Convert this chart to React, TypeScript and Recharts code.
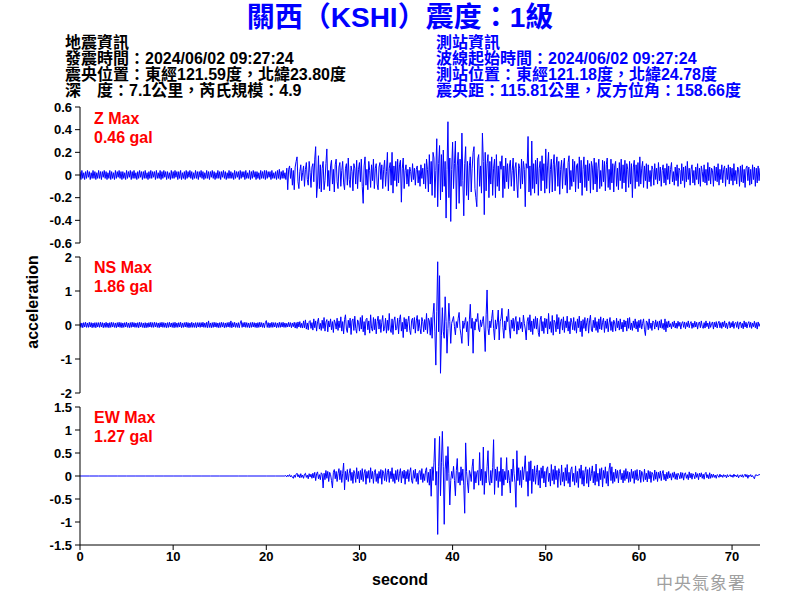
import React from "react"
import { Line, LineChart, XAxis, YAxis } from "recharts"

// seconds: Z/NS are sampled every 0.1 s from 0 s; EW is flat before the onset
const STEP = 0.1
const EW_PRE_STEP = 1
const EVENT_START = 22

const xTicks = [0, 10, 20, 30, 40, 50, 60, 70]
const zTicks = [0.6, 0.4, 0.2, 0, -0.2, -0.4, -0.6]
const nsTicks = [2, 1, 0, -1, -2]
const ewTicks = [1.5, 1, 0.5, 0, -0.5, -1, -1.5]

// Z component (gal)
const zPre = [
  0.03, -0.04, 0.04, -0.03, 0.02, -0.04, 0.03, -0.03, 0.04, -0.02,
  0.03, -0.04, 0.02, -0.03, 0.04, -0.03, 0.03, -0.04, 0.02, -0.03,
  0.04, -0.03, 0.03, -0.04, 0.03, -0.02, 0.04, -0.03, 0.03, -0.04,
  0.02, -0.03, 0.04, -0.04, 0.03, -0.03, 0.02, -0.04, 0.04, -0.03,
  0.03, -0.02, 0.04, -0.03, 0.03, -0.04, 0.03, -0.03, 0.02, -0.04,
  0.04, -0.03, 0.03, -0.02, 0.04, -0.04, 0.03, -0.03, 0.04, -0.03,
  0.02, -0.04, 0.03, -0.03, 0.04, -0.02, 0.03, -0.04, 0.03, -0.03,
  0.04, -0.03, 0.02, -0.04, 0.03, -0.03, 0.04, -0.03, 0.03, -0.02,
  0.03, -0.04, 0.04, -0.03, 0.02, -0.03, 0.04, -0.04, 0.03, -0.03,
  0.04, -0.02, 0.03, -0.04, 0.03, -0.03, 0.02, -0.04, 0.04, -0.03,
  0.03, -0.03, 0.04, -0.02, 0.03, -0.04, 0.03, -0.03, 0.04, -0.04,
  0.02, -0.03, 0.03, -0.04, 0.04, -0.03, 0.03, -0.02, 0.04, -0.03,
  0.03, -0.04, 0.02, -0.03, 0.04, -0.03, 0.03, -0.04, 0.03, -0.02,
  0.04, -0.03, 0.03, -0.04, 0.02, -0.03, 0.04, -0.03, 0.03, -0.04,
  0.03, -0.02, 0.04, -0.03, 0.03, -0.04, 0.02, -0.03, 0.04, -0.03,
  0.03, -0.04, 0.03, -0.02, 0.04, -0.03, 0.03, -0.04, 0.02, -0.03,
  0.04, -0.03, 0.03, -0.03, 0.02, -0.04, 0.04, -0.03, 0.03, -0.02,
  0.03, -0.04, 0.04, -0.03, 0.03, -0.02, 0.03, -0.04, 0.04, -0.03,
  0.02, -0.03, 0.04, -0.04, 0.03, -0.03, 0.04, -0.02, 0.03, -0.04,
  0.03, -0.03, 0.02, -0.04, 0.04, -0.03, 0.03, -0.03, 0.04, -0.04,
  0.04, -0.03, 0.03, -0.02, 0.03, -0.04, 0.04, -0.03, 0.02, -0.03,
  0.03, -0.04, 0.04, -0.03, 0.05, -0.04, 0.03, -0.03, 0.04, -0.03,
]
const zEvent = [
  0.02, -0.04, 0.06, -0.13, 0.05, 0.08, -0.03, 0.06, -0.09, 0.04,
  -0.13, 0.07, 0.12, 0.16, -0.06, -0.12, 0.03, 0.09, -0.05, 0.02,
  0.08, -0.10, 0.05, 0.11, -0.04, -0.09, 0.12, 0.02, -0.11, 0.07,
  0.10, -0.06, 0.14, 0.25, -0.20, -0.08, 0.17, -0.12, 0.09, -0.15,
  0.06, 0.12, -0.13, -0.05, 0.10, 0.23, -0.10, 0.04, -0.14, 0.08,
  0.13, -0.08, 0.05, -0.15, 0.09, 0.14, -0.06, -0.12, 0.07, 0.11,
  -0.10, 0.04, 0.12, -0.07, -0.13, 0.06, 0.10, -0.09, 0.15, -0.04,
  -0.11, 0.08, 0.03, -0.14, 0.10, 0.06, -0.08, 0.13, -0.12, 0.05,
  0.11, -0.06, 0.14, -0.10, -0.25, 0.08, 0.16, -0.09, 0.05, -0.13,
  0.12, 0.04, -0.11, 0.09, -0.05, 0.14, -0.12, 0.06, 0.10, -0.08,
  -0.13, 0.07, 0.11, -0.04, 0.09, -0.12, 0.05, 0.13, -0.10, 0.03,
  0.20, -0.14, 0.06, 0.11, -0.09, 0.20, -0.16, 0.08, -0.05, 0.12,
  -0.10, 0.14, -0.07, 0.09, 0.13, -0.24, 0.06, 0.15, -0.12, 0.04,
  0.09, -0.08, 0.05, -0.10, 0.07, 0.03, -0.06, 0.10, -0.04, 0.06,
  -0.09, 0.05, 0.08, -0.07, 0.04, -0.10, 0.09, -0.03, 0.06, -0.08,
  0.10, -0.12, 0.14, 0.05, -0.15, 0.18, -0.08, 0.12, -0.18, 0.20,
  0.15, -0.20, 0.04, 0.32, -0.28, 0.10, 0.26, -0.22, 0.18, -0.15,
  0.22, -0.10, 0.12, -0.38, 0.05, 0.47, -0.20, 0.15, -0.41, 0.05,
  0.29, -0.12, 0.10, 0.30, -0.30, 0.08, 0.20, -0.25, 0.14, -0.10,
  0.37, -0.05, -0.36, 0.10, 0.25, -0.18, 0.12, -0.22, 0.08, 0.16,
  -0.15, 0.06, 0.20, 0.25, -0.12, -0.20, -0.28, 0.14, 0.18, -0.10,
  0.08, -0.16, 0.37, 0.12, -0.35, 0.20, -0.14, 0.10, 0.18, -0.20,
  0.12, -0.08, 0.16, -0.18, 0.06, 0.14, -0.20, 0.18, -0.10, 0.08,
  -0.14, 0.12, 0.05, 0.17, -0.20, 0.08, -0.12, 0.15, -0.06, 0.10,
  -0.12, 0.08, 0.13, -0.10, 0.04, 0.15, -0.14, 0.06, 0.11, -0.08,
  -0.20, 0.10, 0.06, -0.12, 0.14, -0.08, 0.12, 0.05, -0.28, 0.10,
  0.06, 0.34, -0.15, 0.08, -0.18, 0.30, -0.12, 0.10, -0.16, 0.13,
  -0.08, 0.15, -0.18, 0.06, 0.12, -0.14, 0.17, -0.05, 0.10, -0.16,
  0.23, -0.12, 0.08, 0.20, -0.16, 0.05, 0.14, -0.15, 0.09, 0.18,
  -0.14, 0.07, 0.16, -0.10, 0.12, -0.17, 0.05, 0.13, -0.12, 0.08,
  0.15, -0.09, 0.06, -0.16, 0.11, 0.17, -0.13, 0.04, -0.10, 0.14,
  -0.06, 0.12, -0.15, 0.08, 0.10, -0.12, 0.16, -0.07, 0.13, -0.18,
  0.05, 0.16, -0.11, 0.09, -0.14, 0.13, -0.05, 0.10, -0.16, 0.12,
  0.07, -0.13, 0.15, -0.08, 0.11, -0.15, 0.06, 0.14, -0.12, 0.04,
  -0.10, 0.13, -0.06, 0.12, -0.14, 0.09, 0.15, -0.11, 0.05, -0.13,
  0.14, -0.07, 0.10, -0.15, 0.08, 0.12, -0.10, 0.06, -0.13, 0.11,
  -0.05, 0.14, -0.12, 0.09, -0.07, 0.13, -0.15, 0.10, 0.05, -0.11,
  0.12, -0.08, 0.10, -0.20, 0.07, 0.13, -0.12, 0.09, -0.06, 0.11,
  -0.10, 0.16, -0.08, 0.06, 0.12, -0.11, 0.08, -0.05, 0.10, -0.12,
  0.09, -0.06, 0.04, -0.10, 0.08, 0.05, -0.09, 0.10, -0.04, 0.06,
  -0.08, 0.11, -0.05, 0.07, -0.10, 0.04, 0.09, -0.07, 0.06, -0.09,
  0.10, -0.04, 0.08, -0.08, 0.05, 0.11, -0.06, 0.03, -0.09, 0.07,
  -0.05, 0.09, -0.10, 0.06, 0.04, -0.08, 0.10, -0.05, 0.07, -0.11,
  0.08, -0.06, 0.12, -0.04, 0.06, -0.09, 0.05, 0.09, -0.07, 0.04,
  -0.09, 0.07, -0.04, 0.10, -0.08, 0.06, -0.10, 0.08, 0.03, -0.06,
  0.09, -0.07, 0.05, -0.09, 0.11, -0.05, 0.07, -0.08, 0.06, 0.04,
  -0.10, 0.08, -0.05, 0.07, -0.06, 0.10, -0.09, 0.05, -0.04, 0.09,
  -0.07, 0.05, 0.08, -0.10, 0.06, -0.04, 0.09, -0.08, 0.07, -0.05,
  0.06, -0.09, 0.10, -0.05, 0.04, -0.08, 0.07, 0.05, -0.10, 0.08,
  -0.06, 0.09, -0.07, 0.05, -0.11, 0.06, 0.08, -0.05, 0.07, -0.09,
  0.05, -0.08, 0.09, -0.04, 0.07, -0.10, 0.06, -0.07, 0.08, -0.05,
  0.06,
]

// NS component (gal)
const nsPre = [
  0.07, -0.07, 0.06, -0.08, 0.07, -0.06, 0.08, -0.07, 0.06, -0.07,
  0.08, -0.06, 0.07, -0.08, 0.06, -0.07, 0.07, -0.08, 0.07, -0.06,
  0.07, -0.07, 0.08, -0.06, 0.07, -0.08, 0.06, -0.07, 0.08, -0.07,
  0.06, -0.08, 0.07, -0.07, 0.08, -0.06, 0.07, -0.07, 0.06, -0.08,
  0.07, -0.06, 0.08, -0.07, 0.07, -0.08, 0.06, -0.07, 0.07, -0.06,
  0.08, -0.07, 0.06, -0.08, 0.07, -0.07, 0.08, -0.06, 0.07, -0.07,
  0.06, -0.07, 0.07, -0.08, 0.08, -0.06, 0.07, -0.07, 0.06, -0.08,
  0.07, -0.08, 0.06, -0.07, 0.07, -0.06, 0.08, -0.07, 0.07, -0.07,
  0.08, -0.06, 0.07, -0.07, 0.06, -0.08, 0.07, -0.06, 0.08, -0.07,
  0.07, -0.07, 0.06, -0.08, 0.07, -0.07, 0.08, -0.06, 0.06, -0.07,
  0.07, -0.08, 0.08, -0.07, 0.06, -0.07, 0.07, -0.06, 0.08, -0.08,
  0.06, -0.07, 0.07, -0.06, 0.08, -0.07, 0.07, -0.08, 0.06, -0.07,
  0.08, -0.07, 0.06, -0.07, 0.07, -0.08, 0.07, -0.06, 0.07, -0.07,
  0.07, -0.06, 0.08, -0.07, 0.06, -0.07, 0.08, -0.08, 0.12, -0.07,
  0.06, -0.08, 0.07, -0.07, 0.08, -0.06, 0.07, -0.07, 0.06, -0.08,
  0.07, -0.07, 0.08, -0.06, 0.07, -0.08, 0.06, -0.07, 0.07, -0.06,
  0.08, -0.07, 0.12, -0.08, 0.07, -0.06, 0.08, -0.07, 0.06, -0.07,
  0.07, -0.08, 0.06, 0.13, -0.07, 0.07, -0.06, 0.08, -0.07, 0.07,
  -0.07, 0.06, -0.08, 0.07, -0.07, 0.08, -0.06, 0.07, -0.07, 0.06,
  -0.08, 0.07, -0.07, 0.08, -0.06, 0.07, -0.07, 0.06, -0.08, 0.07,
  0.13, -0.07, 0.07, -0.08, 0.06, -0.07, 0.08, -0.07, 0.07, -0.06,
  0.07, -0.08, 0.06, -0.07, 0.08, -0.07, 0.07, -0.06, 0.08, -0.07,
]
const nsEvent = [
  0.06, -0.07, 0.05, -0.06, 0.08, -0.05, 0.07, -0.08, 0.06, -0.05,
  0.08, -0.09, 0.07, -0.10, 0.09, -0.06, 0.10, -0.08, 0.05, -0.09,
  0.12, -0.08, 0.15, -0.12, 0.06, -0.14, 0.10, 0.13, -0.10, 0.07,
  -0.15, 0.18, -0.08, 0.12, -0.18, 0.10, 0.20, -0.12, 0.05, -0.16,
  0.14, -0.10, 0.22, -0.18, 0.08, 0.16, -0.20, 0.12, -0.06, 0.18,
  -0.14, 0.10, -0.22, 0.15, 0.06, -0.12, 0.20, -0.16, 0.12, -0.08,
  0.24, -0.18, 0.10, -0.26, 0.16, 0.30, -0.12, -0.22, 0.14, -0.08,
  0.20, -0.28, 0.12, 0.18, -0.16, 0.26, -0.10, -0.24, 0.15, 0.08,
  -0.18, 0.22, -0.12, 0.28, -0.20, 0.10, -0.30, 0.16, 0.20, -0.14,
  0.12, -0.24, 0.30, -0.10, -0.18, 0.22, -0.14, 0.18, -0.26, 0.10,
  0.26, -0.12, 0.16, -0.22, 0.08, 0.28, -0.18, -0.10, 0.20, -0.24,
  0.14, -0.16, 0.34, -0.12, -0.22, 0.18, -0.28, 0.12, 0.24, -0.15,
  -0.10, 0.20, -0.26, 0.16, 0.30, -0.18, 0.08, -0.37, 0.22, -0.12,
  0.18, -0.20, 0.10, 0.26, -0.16, -0.28, 0.14, 0.20, -0.12, 0.22,
  -0.24, 0.12, 0.28, -0.18, 0.16, -0.10, -0.26, 0.22, 0.10, -0.20,
  0.16, -0.14, 0.34, -0.25, 0.20, 0.12, -0.30, 0.22, -0.39, 0.30,
  0.64, -0.20, -1.18, 0.40, 1.86, -0.20, 1.45, -1.42, -0.30, 0.51,
  -0.20, -0.39, 0.83, 0.10, -0.83, -0.10, 0.64, 0.10, -0.54, 0.05,
  0.15, 0.25, -0.05, -0.29, 0.10, -0.08, 0.20, 0.37, -0.10, -0.30,
  -0.54, 0.12, -0.10, 0.08, 0.22, -0.20, 0.10, -0.61, 0.15, 0.61,
  -0.10, 0.20, -0.83, 0.10, -0.15, 0.18, 0.10, 0.34, -0.12, -0.20,
  0.15, -0.05, 0.10, 0.25, -0.15, -0.78, 0.30, 1.03, -0.10, -0.29,
  0.12, -0.08, 0.20, 0.44, -0.10, -0.44, 0.15, -0.12, 0.08, 0.44,
  -0.44, 0.10, 0.20, 0.49, -0.08, -0.39, 0.12, -0.15, 0.25, 0.10,
  0.47, -0.12, -0.39, 0.15, -0.10, 0.20, -0.18, 0.12, 0.25, -0.27,
  0.10, -0.15, 0.22, -0.10, 0.08, -0.20, 0.29, 0.05, -0.12, -0.44,
  0.10, 0.22, -0.15, 0.30, -0.20, 0.12, -0.28, 0.18, -0.10, 0.25,
  -0.12, 0.20, -0.22, -0.34, 0.15, 0.26, -0.18, 0.10, -0.25, 0.20,
  -0.08, 0.18, -0.26, 0.34, -0.12, 0.10, -0.22, 0.28, -0.30, 0.14,
  0.08, -0.20, 0.31, -0.12, 0.22, -0.26, 0.10, 0.18, -0.15, 0.24,
  -0.22, 0.12, -0.08, 0.26, -0.18, 0.10, -0.26, 0.20, 0.08, -0.14,
  0.22, -0.16, 0.10, -0.24, 0.18, -0.08, 0.26, -0.20, 0.12, -0.34,
  0.16, -0.10, 0.22, -0.18, 0.08, 0.20, -0.24, 0.12, 0.29, -0.15,
  -0.20, 0.14, -0.08, 0.22, -0.16, 0.10, -0.22, 0.18, -0.12, 0.24,
  -0.14, 0.08, 0.20, -0.22, 0.12, -0.10, 0.18, -0.20, 0.06, 0.22,
  -0.16, 0.10, -0.20, 0.14, 0.06, -0.18, 0.20, -0.08, 0.12, -0.15,
  0.18, -0.12, 0.08, -0.20, 0.15, -0.06, 0.12, -0.18, 0.20, -0.10,
  0.22, -0.14, 0.06, -0.16, 0.12, -0.08, 0.18, -0.12, 0.10, -0.20,
  0.14, -0.08, 0.16, -0.12, 0.05, 0.18, -0.14, -0.31, 0.12, 0.08,
  -0.14, 0.18, -0.10, 0.06, -0.16, 0.12, 0.08, -0.12, 0.15, -0.06,
  0.10, -0.15, 0.12, -0.08, 0.16, -0.10, 0.05, -0.14, 0.18, -0.20,
  0.10, -0.08, 0.12, -0.06, 0.04, -0.11, 0.09, -0.05, 0.12, -0.09,
  0.06, -0.10, 0.11, -0.04, 0.08, -0.12, 0.05, 0.10, -0.07, 0.09,
  -0.11, 0.07, -0.05, 0.12, -0.08, 0.04, 0.10, -0.10, 0.06, -0.07,
  0.11, -0.06, 0.08, -0.12, 0.05, 0.09, -0.08, 0.12, -0.04, -0.10,
  0.07, -0.09, 0.12, -0.05, 0.06, -0.11, 0.10, -0.07, 0.04, 0.09,
  -0.12, 0.08, -0.06, 0.10, -0.09, 0.05, 0.11, -0.08, 0.07, -0.10,
  0.09, -0.05, 0.12, -0.08, 0.06, -0.11, 0.04, 0.10, -0.09, 0.07,
  -0.06, 0.11, -0.10, 0.05, 0.08, -0.07, 0.10, -0.12, 0.06, 0.09,
  -0.08, 0.05, -0.11, 0.12, -0.06, 0.08, -0.09, 0.04, 0.10, -0.07,
  0.08, -0.10, 0.06, -0.05, 0.11, -0.08, 0.07, -0.12, 0.09, -0.04,
  0.05,
]

// EW component (gal)
const ewPre = [0, 0, 0, 0, 0, 0, 0, 0, 0, 0, 0, 0, 0, 0, 0, 0, 0, 0, 0, 0, 0, 0]
const ewEvent = [
  0.00, 0.01, -0.02, 0.02, -0.01, 0.03, -0.02, 0.01, -0.03, -0.05,
  0.02, -0.03, 0.04, 0.06, -0.02, 0.03, -0.04, 0.05, -0.03, 0.02,
  -0.05, 0.04, 0.06, -0.03, 0.02, -0.06, 0.05, -0.02, 0.04, -0.05,
  0.06, -0.04, 0.08, -0.10, 0.05, 0.09, -0.06, 0.03, -0.08, 0.07,
  0.04, -0.26, 0.06, -0.08, 0.12, -0.05, 0.10, -0.12, 0.08, 0.03,
  -0.10, -0.26, 0.08, 0.14, -0.06, 0.10, -0.12, 0.05, 0.16, -0.08,
  0.12, -0.14, 0.06, 0.28, -0.30, 0.10, -0.08, 0.14, -0.12, 0.06,
  0.16, -0.10, 0.08, -0.16, 0.12, 0.05, -0.14, 0.18, -0.06, 0.10,
  -0.15, 0.12, -0.08, 0.16, -0.12, 0.06, 0.14, -0.18, 0.10, -0.05,
  0.12, -0.14, 0.18, -0.06, 0.10, -0.16, 0.08, 0.14, -0.12, 0.05,
  -0.16, 0.10, -0.05, 0.14, -0.18, 0.12, 0.06, -0.10, 0.16, -0.12,
  0.08, 0.15, -0.14, 0.10, -0.06, 0.18, -0.12, 0.05, -0.16, 0.12,
  -0.08, 0.14, -0.12, 0.06, 0.16, -0.15, 0.10, -0.05, 0.13, -0.18,
  0.10, -0.06, 0.14, -0.12, 0.08, 0.18, -0.10, -0.16, 0.12, -0.05,
  0.15, -0.12, 0.06, -0.18, 0.10, 0.12, -0.08, 0.16, -0.14, 0.05,
  -0.10, 0.12, 0.18, -0.14, 0.08, -0.20, 0.15, -0.44, 0.20, -0.10,
  0.30, 0.82, -0.20, 0.10, -1.27, 0.20, 0.86, -0.43, 0.30, 0.97,
  0.20, -1.05, 0.15, 0.44, -0.10, 0.64, 0.05, -0.63, -0.10, 0.10,
  -0.05, 0.21, -0.10, -0.43, 0.12, 0.38, -0.15, 0.08, -0.20, 0.20,
  -0.10, 0.15, -0.20, -0.81, 0.72, 0.10, -0.15, -0.37, 0.12, 0.05,
  -0.12, 0.20, 0.37, -0.29, 0.10, -0.15, 0.08, 0.12, -0.20, 0.51,
  -0.10, 0.15, -0.20, 0.63, -0.40, 0.10, -0.15, 0.20, 0.55, -0.10,
  -0.20, 0.12, -0.15, 0.18, 0.79, -0.40, 0.15, -0.10, 0.20, -0.25,
  0.10, -0.12, 0.40, -0.43, 0.15, -0.20, 0.10, -0.08, 0.40, -0.15,
  0.12, -0.10, -0.37, 0.15, -0.12, 0.37, 0.05, -0.15, -0.68, 0.55,
  -0.10, 0.18, -0.20, 0.12, -0.25, 0.20, -0.08, 0.15, 0.44, -0.12,
  0.10, -0.44, 0.31, -0.10, 0.33, -0.38, 0.15, -0.12, 0.22, -0.18,
  0.08, 0.24, -0.20, 0.12, -0.26, 0.18, -0.05, 0.22, -0.15, 0.10,
  -0.24, 0.15, 0.20, -0.12, 0.06, -0.22, 0.25, -0.10, 0.14, -0.18,
  0.22, -0.08, 0.12, -0.25, 0.16, 0.05, -0.20, 0.24, -0.12, 0.08,
  -0.22, 0.18, -0.10, 0.25, -0.16, 0.08, -0.24, 0.14, 0.20, -0.12,
  0.06, -0.20, 0.22, -0.14, 0.10, -0.25, 0.16, -0.05, 0.24, -0.18,
  0.12, -0.22, 0.08, 0.20, -0.16, 0.14, -0.24, 0.18, -0.10, 0.05,
  0.22, -0.15, 0.10, -0.20, 0.26, -0.12, 0.06, -0.22, 0.16, -0.08,
  0.18, -0.24, 0.12, -0.05, 0.20, -0.16, 0.10, -0.22, 0.15, 0.28,
  -0.10, 0.20, -0.16, 0.08, -0.12, 0.15, -0.05, 0.12, -0.15, 0.10,
  0.14, -0.08, 0.06, -0.15, 0.12, -0.10, 0.16, -0.06, 0.10, -0.14,
  0.08, -0.12, 0.15, -0.05, 0.10, -0.16, 0.12, -0.08, 0.14, -0.10,
  -0.06, 0.13, -0.14, 0.10, 0.05, -0.12, 0.15, -0.08, 0.06, -0.13,
  0.12, -0.06, 0.10, -0.14, 0.08, 0.04, -0.10, 0.13, -0.07, 0.09,
  -0.12, 0.08, -0.05, 0.11, -0.10, 0.06, 0.12, -0.08, 0.04, -0.11,
  0.08, -0.06, 0.10, -0.04, 0.05, -0.09, 0.07, -0.03, 0.09, -0.07,
  0.05, -0.08, 0.06, 0.02, -0.06, 0.08, -0.05, 0.07, -0.09, 0.04,
  0.07, -0.05, 0.03, -0.08, 0.09, -0.04, 0.06, -0.07, 0.05, 0.02,
  -0.06, 0.08, -0.03, 0.05, -0.08, 0.06, -0.02, 0.07, -0.05, 0.04,
  -0.07, 0.05, 0.08, -0.04, 0.03, -0.06, 0.07, -0.05, 0.04, -0.03,
  0.04, -0.03, 0.02, -0.05, 0.03, 0.01, -0.03, 0.04, -0.02, 0.02,
  -0.03, 0.03, -0.01, 0.02, -0.04, 0.03, -0.02, 0.01, 0.03, -0.02,
  0.02, -0.03, 0.04, -0.01, 0.02, -0.02, 0.03, -0.04, 0.01, 0.02,
  -0.02, 0.03, -0.03, 0.01, 0.04, -0.02, 0.03, -0.05, 0.02, -0.01,
  0.03, -0.02, 0.01, -0.03, -0.06, 0.02, 0.03, 0.00, 0.02, 0.03,
  0.03,
]

const round1 = (t: number) => Math.round(t * 10) / 10

const buildTrace = (pre: number[], preStep: number, event: number[]) => {
  const pts = pre.map((v, i) => ({ t: round1(i * preStep), v }))
  event.forEach((v, i) => {
    pts.push({ t: round1(EVENT_START + i * STEP), v })
  })
  return pts
}

const zData = buildTrace(zPre, STEP, zEvent)
const nsData = buildTrace(nsPre, STEP, nsEvent)
const ewData = buildTrace(ewPre, EW_PRE_STEP, ewEvent)

const tickFont = { fill: "#000", fontSize: 13, fontWeight: 700, fontFamily: "'Liberation Sans', Arial, sans-serif" }
const textFont = "'Liberation Sans', Arial, 'Noto Sans CJK TC', sans-serif"

type PanelProps = {
  data: { t: number; v: number }[]
  domain: [number, number]
  ticks: number[]
  top: number
  height: number
  showX?: boolean
}

function Panel({ data, domain, ticks, top, height, showX }: PanelProps) {
  return (
    <div style={{ position: "absolute", left: 0, top }}>
      <LineChart
        width={800}
        height={height}
        data={data}
        margin={{ top: 7, right: 40, bottom: showX ? 22 : 7, left: 20 }}
      >
        <XAxis
          dataKey="t"
          type="number"
          domain={[0, 73]}
          ticks={xTicks}
          allowDataOverflow
          hide={!showX}
          height={33}
          stroke="#000"
          tickSize={5}
          tickMargin={2}
          tick={tickFont}
        />
        <YAxis
          type="number"
          domain={domain}
          ticks={ticks}
          allowDataOverflow
          interval={0}
          width={60}
          stroke="#000"
          tickSize={5}
          tickMargin={3}
          tick={tickFont}
          tickFormatter={(v) => String(v)}
        />
        <Line
          type="linear"
          dataKey="v"
          stroke="#0000ff"
          strokeWidth={1}
          dot={false}
          activeDot={false}
          isAnimationActive={false}
        />
      </LineChart>
    </div>
  )
}

const infoLeft = [
  "地震資訊",
  "發震時間：2024/06/02 09:27:24",
  "震央位置：東經121.59度，北緯23.80度",
  "深　度：7.1公里，芮氏規模：4.9",
]
const infoRight = [
  "測站資訊",
  "波線起始時間：2024/06/02 09:27:24",
  "測站位置：東經121.18度，北緯24.78度",
  "震央距：115.81公里，反方位角：158.66度",
]

const maxLabels = [
  { name: "Z Max", value: "0.46 gal", top: 109 },
  { name: "NS Max", value: "1.86 gal", top: 258 },
  { name: "EW Max", value: "1.27 gal", top: 408 },
]

export default function App() {
  const abs = (extra: React.CSSProperties): React.CSSProperties => ({
    position: "absolute",
    whiteSpace: "nowrap",
    fontFamily: textFont,
    ...extra,
  })

  return (
    <div style={{ position: "absolute", left: 0, top: 0, width: 800, height: 600, background: "#fff", overflow: "hidden" }}>
      <div style={abs({ left: 0, width: 800, top: 3, textAlign: "center", color: "#0000ff", fontSize: 28, fontWeight: 700, lineHeight: "30px" })}>
        關西（KSHI）震度：1級
      </div>
      {infoLeft.map((line, i) => (
        <div key={line} style={abs({ left: 65, top: 34 + i * 16, fontSize: 16, fontWeight: 700, color: "#000", lineHeight: "17px" })}>
          {line}
        </div>
      ))}
      {infoRight.map((line, i) => (
        <div key={line} style={abs({ left: 436, top: 34 + i * 16, fontSize: 16, fontWeight: 700, color: "#0000ff", lineHeight: "17px" })}>
          {line}
        </div>
      ))}

      <Panel data={zData} domain={[-0.6, 0.6]} ticks={zTicks} top={100} height={150} />
      <Panel data={nsData} domain={[-2, 2]} ticks={nsTicks} top={250} height={150} />
      <Panel data={ewData} domain={[-1.5, 1.5]} ticks={ewTicks} top={400} height={200} showX />

      {maxLabels.map((m) => (
        <div key={m.name} style={abs({ left: 94, top: m.top, color: "#ff0000", fontSize: 16, fontWeight: 700, lineHeight: "19px" })}>
          <div>{m.name}</div>
          <div>{m.value}</div>
        </div>
      ))}

      <div
        style={abs({
          left: 33,
          top: 302,
          transform: "translate(-50%, -50%) rotate(-90deg)",
          fontSize: 16,
          fontWeight: 700,
          color: "#000",
        })}
      >
        acceleration
      </div>
      <div style={abs({ left: 0, width: 800, top: 571, textAlign: "center", fontSize: 16, fontWeight: 700, color: "#000" })}>
        second
      </div>
      <div style={abs({ left: 656, top: 569, fontSize: 17, color: "#a0a0a0", fontFamily: "'Noto Sans CJK TC', serif", letterSpacing: 1 })}>
        中央氣象署
      </div>
    </div>
  )
}
